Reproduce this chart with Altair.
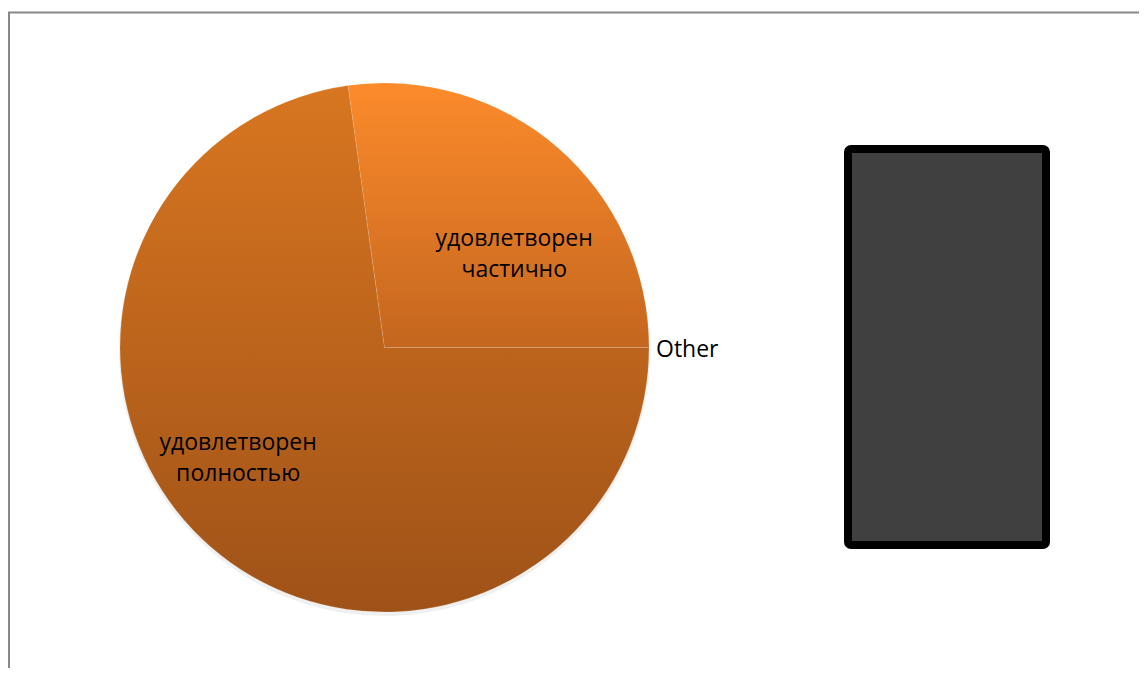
import math
import altair as alt
import pandas as pd

# ---- data ----
categories = ["удовлетворен полностью", "удовлетворен частично", "Other"]
values = [72.8, 27.2, 0.0]
order = [0, 1, 2]

df = pd.DataFrame({"category": categories, "value": values, "order": order})

CX, CY, R = 376.5, 339.5, 264.5
FONT = "Open Sans"

theta_scale = alt.Scale(domain=[0, 100], range=[math.pi / 2, math.pi / 2 + 2 * math.pi])

base = alt.Chart(df).transform_window(
    cum="sum(value)", sort=[alt.SortField("order")], frame=[None, 0]
).transform_calculate(
    start="datum.cum - datum.value",
    mid="datum.cum - datum.value / 2",
)


def grad(c0, c1):
    return alt.LinearGradient(
        gradient="linear",
        x1=0, y1=0, x2=0, y2=1,
        stops=[alt.GradientStop(offset=0, color=c0), alt.GradientStop(offset=1, color=c1)],
    )


def slice_layer(cat, c0, c1):
    return base.transform_filter(alt.datum.category == cat).mark_arc(
        radius=R, fill=grad(c0, c1), stroke="#ffffff", strokeWidth=0.6, strokeOpacity=0.2
    ).encode(
        theta=alt.Theta("start:Q", scale=theta_scale, stack=None),
        theta2="cum:Q",
        x=alt.value(CX),
        y=alt.value(CY),
    )


shadow = base.transform_filter(alt.datum.value > 0).mark_arc(
    radius=R + 1, fill="#000000", opacity=0.06
).encode(
    theta=alt.Theta("start:Q", scale=theta_scale, stack=None),
    theta2="cum:Q",
    x=alt.value(CX),
    y=alt.value(CY + 3),
)

full = slice_layer(categories[0], "#D87620", "#9F5218")
part = slice_layer(categories[1], "#FC8B2B", "#C4661F")


def label_layer(cat, radius, offset, align="center", linebreak=" ", dy=-16):
    return base.transform_filter(alt.datum.category == cat).mark_text(
        radius=radius, thetaOffset=offset, align=align, baseline="middle",
        font=FONT, fontSize=23, color="#000000", lineBreak=linebreak, lineHeight=31,
        dy=dy,
    ).encode(
        theta=alt.Theta("mid:Q", scale=theta_scale, stack=None),
        text="category:N",
        x=alt.value(CX),
        y=alt.value(CY),
    )


lab_full = label_layer(categories[0], 185, 0.196, dy=-18)
lab_part = label_layer(categories[1], 160, 0.229, dy=-15)
lab_other = label_layer(categories[2], 271.5, 0.0, align="left", linebreak="\n", dy=2)

# legend box (empty, dark) and chart frame
box_df = pd.DataFrame({"k": [0]})
legend_box = alt.Chart(box_df).mark_rect(
    fill="#404040", stroke="#000000", strokeWidth=8, cornerRadius=3
).encode(
    x=alt.value(840), x2=alt.value(1038), y=alt.value(141), y2=alt.value(537)
)
frame_top = alt.Chart(box_df).mark_rule(color="#888888", strokeWidth=2).encode(
    x=alt.value(0), x2=alt.value(1131), y=alt.value(4.5)
)
frame_left = alt.Chart(box_df).mark_rule(color="#888888", strokeWidth=2).encode(
    x=alt.value(1), y=alt.value(4), y2=alt.value(660)
)

chart = alt.layer(
    frame_top, frame_left, shadow, full, part, lab_full, lab_part, lab_other, legend_box
).properties(
    width=1131, height=660, padding=0, autosize=alt.AutoSizeParams(type="none")
).configure_view(stroke=None)

chart.save("out.html", embed_options={"renderer": "svg", "actions": False})
